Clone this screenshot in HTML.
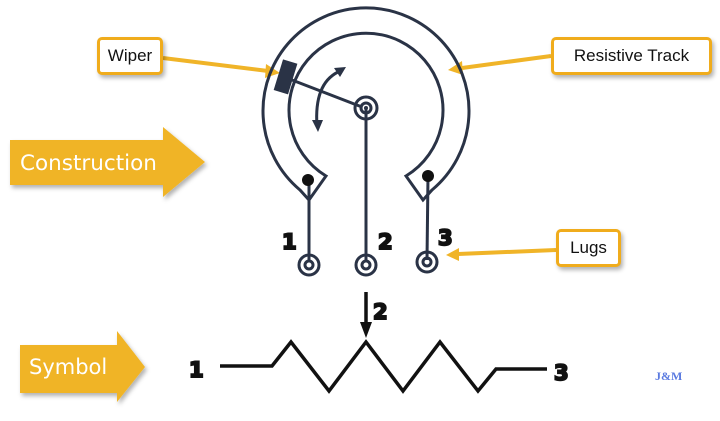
<!DOCTYPE html>
<html><head><style>
body{margin:0;width:720px;height:421px;background:#fff;overflow:hidden;position:relative;font-family:"Liberation Sans",sans-serif}
.box{position:absolute;border:3px solid #f0ac1c;border-radius:5px;background:#fff;box-shadow:2px 3px 4px rgba(0,0,0,.3);font-size:17px;color:#111;display:flex;align-items:center;justify-content:center;box-sizing:border-box}
</style></head><body>
<svg width="720" height="421" style="position:absolute;left:0;top:0">
<defs>
<filter id="sh"><feDropShadow dx="2" dy="3" stdDeviation="2" flood-opacity="0.3"/></filter>
</defs>
<polygon points="10,140 163,140 163,127 205,162 163,197 163,185 10,185" fill="#f0b428" filter="url(#sh)"/>
<text x="20" y="170" font-family="DejaVu Sans,sans-serif" font-size="21.5" fill="#fff">Construction</text>
<polygon points="20,345 117,345 117,331 145,367 117,402 117,393 20,393" fill="#f0b428" filter="url(#sh)"/>
<text x="29" y="374" font-family="DejaVu Sans,sans-serif" font-size="21" fill="#fff">Symbol</text>
<g stroke="#f0b428" stroke-width="4" fill="#f0b428">
<line x1="163" y1="58" x2="268" y2="71"/>
<polygon points="280,73 266,64 265,78" stroke="none"/>
<line x1="551" y1="56" x2="462" y2="68"/>
<polygon points="448,70 462,61 463,75" stroke="none"/>
<line x1="556" y1="250" x2="458" y2="254"/>
<polygon points="446,255 459,248 459,261" stroke="none"/>
</g>
<g stroke="#2a3346" stroke-width="3" fill="none">
<path d="M300,190 A103,103 0 1 1 432,190 L423,200 L406,176 A77,77 0 1 0 326,176 L309,200 Z"/>
<line x1="309" y1="180" x2="309" y2="262"/>
<line x1="366" y1="108" x2="366" y2="262"/>
<line x1="428" y1="176" x2="427" y2="260"/>
<circle cx="309" cy="265" r="10"/><circle cx="309" cy="265" r="4"/>
<circle cx="366" cy="265" r="10"/><circle cx="366" cy="265" r="4"/>
<circle cx="427" cy="262" r="10"/><circle cx="427" cy="262" r="4"/>
<line x1="292" y1="80" x2="362" y2="107"/>
<circle cx="366" cy="108" r="11"/><circle cx="366" cy="108" r="5"/>
<path d="M338,72 Q314,84 317,126"/>
</g>
<circle cx="366" cy="108" r="2" fill="#2a3346"/>
<circle cx="308" cy="180" r="6" fill="#111"/>
<circle cx="428" cy="176" r="6" fill="#111"/>
<rect x="278" y="61" width="15" height="32" fill="#2a3346" transform="rotate(17 286 77)"/>
<polygon points="346,67 334,68 340,77" fill="#2a3346"/>
<polygon points="318,132 312,120 323,120" fill="#2a3346"/>
<g stroke="#111" stroke-width="3.5" fill="none" stroke-linejoin="miter">
<polyline points="220,366 272,366 291,342 329,391 366,342 403,391 440,342 478,391 496,369 547,369"/>
<line x1="366" y1="292" x2="366" y2="325"/>
</g>
<polygon points="360,322 372,322 366,338" fill="#111"/>
<g font-family="DejaVu Sans,sans-serif" font-weight="bold" font-size="21" fill="#111" stroke="#111" stroke-width="2">
<text x="282" y="249">1</text>
<text x="378" y="249">2</text>
<text x="438" y="245">3</text>
<text x="373" y="319">2</text>
<text x="189" y="377">1</text>
<text x="554" y="380">3</text>
</g>
<text x="655" y="380" font-family="Liberation Serif,serif" font-weight="bold" font-size="12" fill="#5a7ae0">J&amp;M</text>
</svg>
<div class="box" style="left:97px;top:37px;width:66px;height:38px">Wiper</div>
<div class="box" style="left:551px;top:37px;width:161px;height:38px">Resistive Track</div>
<div class="box" style="left:556px;top:229px;width:65px;height:38px">Lugs</div>
</body></html>
